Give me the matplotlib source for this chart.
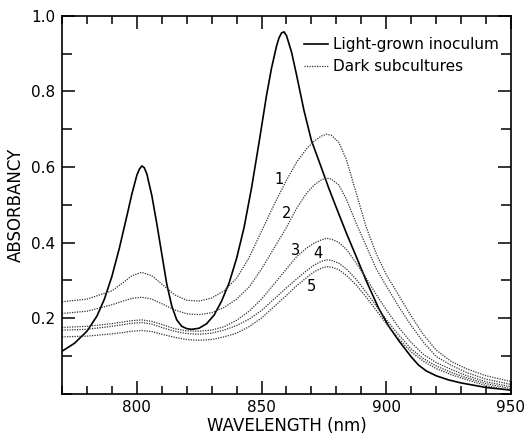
import matplotlib
matplotlib.use("Agg")
import matplotlib.pyplot as plt
from matplotlib.ticker import MultipleLocator

# light-grown inoculum (solid)
light_nm = [770, 775, 780, 784, 787, 790, 793, 796, 798, 800, 801, 802, 803, 804,
            806, 808, 810, 812, 814, 816, 818, 820, 822, 825, 828, 831, 834, 837,
            840, 843, 846, 849, 852, 854, 856, 857, 858, 859, 860, 862, 864, 867,
            870, 874, 877, 880, 884, 888, 892, 897, 901, 905, 910, 913, 916, 920,
            925, 930, 940, 950]
light_abs = [0.112, 0.133, 0.165, 0.205, 0.250, 0.310, 0.385, 0.470, 0.528, 0.578,
             0.594, 0.603, 0.598, 0.582, 0.525, 0.450, 0.370, 0.290, 0.232, 0.195,
             0.178, 0.172, 0.170, 0.173, 0.185, 0.208, 0.245, 0.293, 0.358, 0.440,
             0.545, 0.665, 0.790, 0.862, 0.920, 0.942, 0.955, 0.958, 0.948, 0.905,
             0.845, 0.750, 0.670, 0.598, 0.543, 0.492, 0.425, 0.362, 0.298, 0.225,
             0.178, 0.140, 0.097, 0.075, 0.060, 0.047, 0.036, 0.028, 0.016, 0.009]

# dark subcultures 1-5 (dotted)
dark_nm = [770, 780, 790, 795, 798, 802, 806, 810, 815, 820, 825, 830, 835, 840,
           845, 850, 855, 860, 864, 868, 871, 874, 876, 878, 881, 884, 888, 892,
           896, 900, 905, 910, 915, 920, 926, 932, 940, 950]
dark1 = [0.243, 0.250, 0.272, 0.296, 0.312, 0.321, 0.312, 0.290, 0.262, 0.247,
         0.245, 0.253, 0.272, 0.305, 0.360, 0.430, 0.500, 0.565, 0.612, 0.648,
         0.668, 0.682, 0.687, 0.684, 0.665, 0.620, 0.530, 0.440, 0.370, 0.315,
         0.260, 0.205, 0.155, 0.115, 0.085, 0.066, 0.047, 0.032]
dark2 = [0.212, 0.218, 0.235, 0.246, 0.252, 0.255, 0.250, 0.238, 0.222, 0.211,
         0.209, 0.214, 0.228, 0.250, 0.282, 0.330, 0.385, 0.440, 0.490, 0.530,
         0.552, 0.566, 0.571, 0.568, 0.552, 0.515, 0.450, 0.390, 0.330, 0.285,
         0.230, 0.180, 0.135, 0.098, 0.075, 0.056, 0.038, 0.024]
dark3 = [0.175, 0.178, 0.185, 0.190, 0.193, 0.195, 0.191, 0.183, 0.172, 0.166,
         0.165, 0.168, 0.177, 0.194, 0.218, 0.250, 0.290, 0.330, 0.362, 0.385,
         0.398, 0.407, 0.411, 0.409, 0.400, 0.382, 0.345, 0.305, 0.262, 0.222,
         0.175, 0.135, 0.103, 0.082, 0.064, 0.048, 0.031, 0.018]
dark4 = [0.168, 0.170, 0.178, 0.183, 0.186, 0.188, 0.184, 0.175, 0.165, 0.159,
         0.157, 0.160, 0.168, 0.180, 0.197, 0.220, 0.250, 0.280, 0.303, 0.325,
         0.340, 0.350, 0.354, 0.353, 0.345, 0.330, 0.302, 0.268, 0.232, 0.196,
         0.155, 0.118, 0.092, 0.073, 0.056, 0.042, 0.026, 0.013]
dark5 = [0.150, 0.152, 0.158, 0.162, 0.165, 0.167, 0.164, 0.157, 0.149, 0.143,
         0.141, 0.143, 0.150, 0.160, 0.177, 0.200, 0.230, 0.260, 0.285, 0.307,
         0.322, 0.332, 0.336, 0.335, 0.328, 0.313, 0.287, 0.255, 0.220, 0.185,
         0.145, 0.110, 0.085, 0.066, 0.050, 0.037, 0.021, 0.008]
dark_series = [dark1, dark2, dark3, dark4, dark5]

# curve number labels (nm, absorbancy)
label_text = ["1", "2", "3", "4", "5"]
label_nm = [857.0, 860.2, 863.6, 872.5, 869.9]
label_abs = [0.566, 0.477, 0.380, 0.371, 0.283]

plt.rcParams["font.family"] = ["DejaVu Sans"]

fig = plt.figure(figsize=(5.28, 4.37), dpi=100)
ax = fig.add_axes([0.1174, 0.0995, 0.8504, 0.8639])

ax.plot(light_nm, light_abs, color="black", linewidth=1.2,
        label="Light-grown inoculum")
for i, ys in enumerate(dark_series):
    ax.plot(dark_nm, ys, color="#333333", linewidth=0.9, linestyle=(0, (1, 1)),
            label="Dark subcultures" if i == 0 else None)

for t, x, y in zip(label_text, label_nm, label_abs):
    ax.text(x, y, t, fontsize=10.5, ha="center", va="center")

ax.set_xlim(770, 950)
ax.set_ylim(0, 1.0)
ax.xaxis.set_major_locator(MultipleLocator(50))
ax.xaxis.set_minor_locator(MultipleLocator(10))
ax.yaxis.set_minor_locator(MultipleLocator(0.1))
ax.set_yticks([0.2, 0.4, 0.6, 0.8, 1.0])
ax.set_yticklabels(["0.2", "0.4", "0.6", "0.8", "1.0"])

ax.tick_params(which="both", direction="in", top=True, right=True,
               labelsize=11, width=1.1)
ax.tick_params(which="major", length=9.5, pad=5)
ax.tick_params(axis="x", which="minor", length=5.8)
ax.tick_params(axis="y", which="minor", length=7)
for s in ax.spines.values():
    s.set_linewidth(1.2)

ax.set_xlabel("WAVELENGTH (nm)", fontsize=12, labelpad=1)
ax.set_ylabel("ABSORBANCY", fontsize=12, labelpad=4)

ax.legend(loc="upper right", bbox_to_anchor=(1.013, 0.992), frameon=False,
          fontsize=11, handlelength=1.6, handletextpad=0.3,
          labelspacing=0.45, borderaxespad=0.8)

fig.savefig("out.png", dpi=100)
